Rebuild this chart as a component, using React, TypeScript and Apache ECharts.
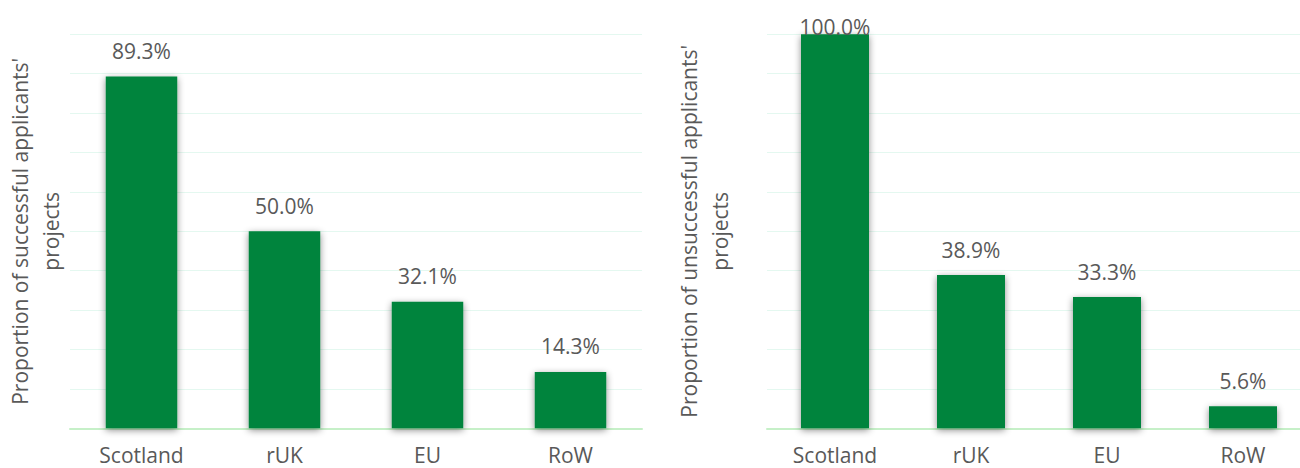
import React, { useEffect, useRef } from "react";
import * as echarts from "echarts";

const categories = ["Scotland", "rUK", "EU", "RoW"];
const successfulValues = [89.3, 50.0, 32.1, 14.3];
const unsuccessfulValues = [100.0, 38.9, 33.3, 5.6];
const leftTitle = "Proportion of successful applicants'\nprojects";
const rightTitle = "Proportion of unsuccessful applicants'\nprojects";

const FONT = "'Open Sans', sans-serif";
const TEXT = "#595959";
const GREEN = "#00843D";

export default function App() {
  const ref = useRef<HTMLDivElement>(null);
  useEffect(() => {
    if (!ref.current) return;
    const chart = echarts.init(ref.current, null, { renderer: "svg" });
    const makeX = (gi: number) => ({
      type: "category",
      gridIndex: gi,
      data: categories,
      axisLine: { show: true, lineStyle: { color: "#C6F0C8", width: 2 } },
      axisTick: { show: false },
      axisLabel: { color: TEXT, fontFamily: FONT, fontSize: 21, lineHeight: 21, margin: 16 },
    });
    const makeY = (gi: number, name: string, gap: number) => ({
      type: "value",
      gridIndex: gi,
      min: 0,
      max: 100,
      interval: 10,
      name,
      nameLocation: "middle",
      nameRotate: 90,
      nameGap: gap,
      nameTextStyle: { color: TEXT, fontFamily: FONT, fontSize: 21, lineHeight: 31 },
      axisLabel: { show: false },
      axisLine: { show: false },
      axisTick: { show: false },
      splitLine: { lineStyle: { color: "#E4F8F0", width: 1 } },
    });
    const makeSeries = (gi: number, vals: number[]) => ({
      type: "bar",
      xAxisIndex: gi,
      yAxisIndex: gi,
      barWidth: "50%",
      data: vals.map((v) =>
        v >= 99
          ? { value: v, label: { distance: -3 } }
          : { value: v }
      ),
      itemStyle: {
        color: GREEN,
        shadowColor: "rgba(0,0,0,0.45)",
        shadowBlur: 7,
        shadowOffsetX: 0,
        shadowOffsetY: 2,
      },
      label: {
        show: true,
        position: "top",
        distance: 15,
        color: TEXT,
        fontFamily: FONT,
        fontSize: 21,
        formatter: (p: any) => Number(p.value).toFixed(1) + "%",
      },
    });
    chart.setOption({
      animation: false,
      backgroundColor: "#ffffff",
      grid: [
        { left: 70, right: 658, top: 34.3, bottom: 39.7, outerBoundsMode: "none", containLabel: false },
        { left: 767, right: -11, top: 34.3, bottom: 39.7, outerBoundsMode: "none", containLabel: false },
      ],
      xAxis: [makeX(0), makeX(1)],
      yAxis: [makeY(0, leftTitle, 4), makeY(1, rightTitle, 32)],
      series: [makeSeries(0, successfulValues), makeSeries(1, unsuccessfulValues)],
    });
    return () => chart.dispose();
  }, []);
  return (
    <div
      ref={ref}
      style={{ position: "fixed", left: 0, top: 0, width: 1300, height: 468, background: "#fff" }}
    />
  );
}
